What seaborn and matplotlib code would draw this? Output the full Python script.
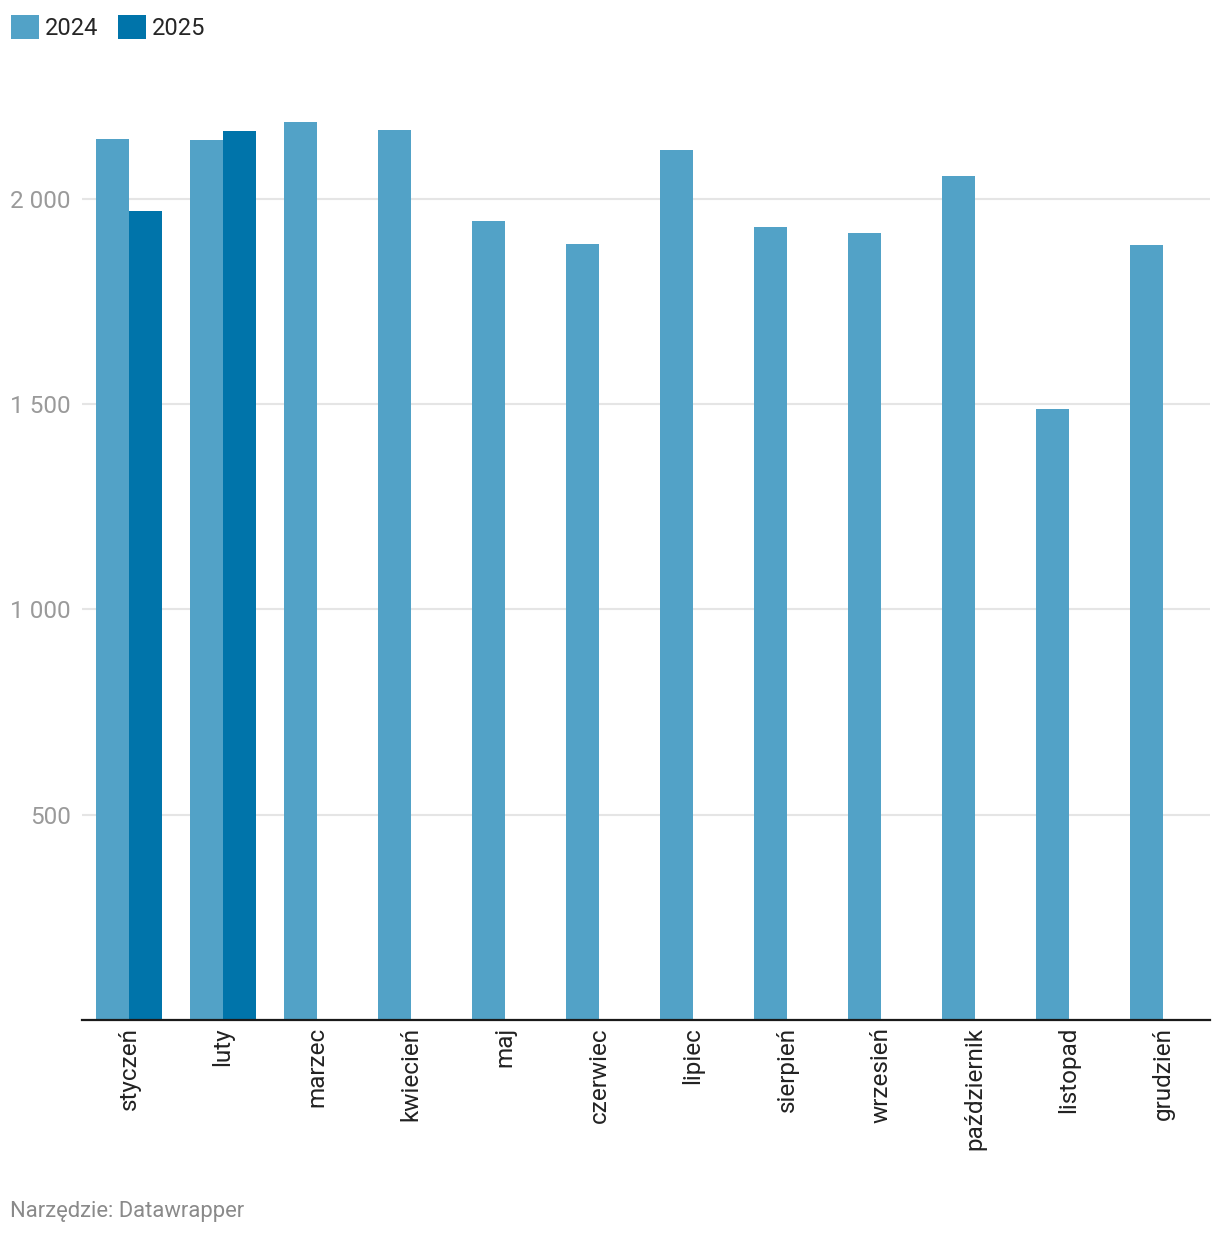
import pandas as pd
import matplotlib
matplotlib.use("Agg")
import matplotlib.pyplot as plt
import seaborn as sns
from matplotlib.patches import Patch
from matplotlib.ticker import FuncFormatter

# -------------------------------
# Data
# -------------------------------
months = ["styczeń", "luty", "marzec", "kwiecień", "maj", "czerwiec",
          "lipiec", "sierpień", "wrzesień", "październik", "listopad", "grudzień"]
values_2024 = [2146, 2144, 2188, 2168, 1946, 1890, 2119, 1932, 1917, 2056, 1488, 1888]
months_2025 = ["styczeń", "luty"]
values_2025 = [1971, 2166]
years = ["2024", "2025"]
colors = ["#52a2c7", "#0074aa"]

df = pd.concat([
    pd.DataFrame({"miesiac": months, "wartosc": values_2024, "rok": "2024"}),
    pd.DataFrame({"miesiac": months_2025, "wartosc": values_2025, "rok": "2025"}),
], ignore_index=True)

# -------------------------------
# Style
# -------------------------------
sns.set_style("white")
plt.rcParams["font.family"] = ["Roboto", "DejaVu Sans"]

fig = plt.figure(figsize=(12.2, 12.36), dpi=100)
ax = fig.add_axes([82 / 1220, 216 / 1236, 1128 / 1220, 920 / 1236])

sns.barplot(
    data=df, x="miesiac", y="wartosc", hue="rok",
    order=months, hue_order=years, palette=colors,
    width=0.7, saturation=1, errorbar=None, ax=ax, legend=False,
    linewidth=0, edgecolor="none", zorder=3
)

ax.set_xlim(-0.5, 11.5)
ax.set_ylim(0, 2241)
ax.set_yticks([500, 1000, 1500, 2000])
ax.yaxis.set_major_formatter(FuncFormatter(lambda v, p: f"{int(v):,}".replace(",", " ")))
ax.grid(axis="y", color="#e5e5e5", linewidth=1.5, zorder=0)
ax.set_axisbelow(True)

ax.set_xlabel("")
ax.set_ylabel("")
for s in ["top", "right", "left"]:
    ax.spines[s].set_visible(False)
ax.spines["bottom"].set_color("#1a1a1a")
ax.spines["bottom"].set_linewidth(1.6)
ax.spines["bottom"].set_zorder(5)

ax.tick_params(axis="y", length=0, pad=8, labelsize=17.5, labelcolor="#9a9a9a")
ax.tick_params(axis="x", length=0, pad=5, labelsize=17.5, labelcolor="#222222")
plt.setp(ax.get_xticklabels(), rotation=90, va="top", ha="center")

# -------------------------------
# Legend + footer
# -------------------------------
handles = [Patch(facecolor=c, edgecolor="none", label=y) for c, y in zip(colors, years)]
fig.legend(
    handles=handles, loc="upper left", bbox_to_anchor=(4 / 1220, 1 - 8 / 1236),
    ncol=2, frameon=False, fontsize=17, handlelength=1.2, handleheight=1.2,
    handletextpad=0.25, columnspacing=0.8, borderaxespad=0, borderpad=0.3
)

fig.text(10 / 1220, 1 - 1211 / 1236, "Narzędzie: Datawrapper",
         fontsize=15.8, color="#8a8a8a", va="center", ha="left")

fig.savefig("out.png", dpi=100)
